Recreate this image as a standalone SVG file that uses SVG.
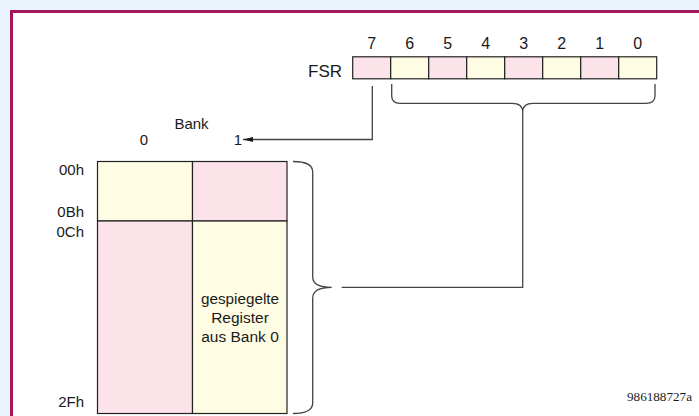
<svg xmlns="http://www.w3.org/2000/svg" width="699" height="416" viewBox="0 0 699 416">
<defs>
<style>
.t{font-family:"Liberation Sans",Arial,sans-serif;fill:#1a1a1a}
.cell{stroke:#222;stroke-width:1.2}
.p{fill:#FCE3EA}
.y{fill:#FEFDE3}
.ln{fill:none;stroke:#444;stroke-width:1.3}
</style>
<marker id="arr" markerWidth="10" markerHeight="6" refX="10" refY="3" orient="auto" markerUnits="userSpaceOnUse">
<path d="M0,0.5 L10,3 L0,5.5 Z" fill="#1a1a1a"/>
</marker>
</defs>
<rect x="0" y="0" width="699" height="416" fill="#EBF4FC"/>
<rect x="11.5" y="11.5" width="700" height="420" fill="#fff" stroke="#A3185D" stroke-width="3"/>

<g id="fsr">
<text class="t" x="342" y="77" font-size="17" text-anchor="end">FSR</text>
<rect class="cell p" x="352.7" y="56.8" width="38" height="22"/>
<rect class="cell y" x="390.7" y="56.8" width="38" height="22"/>
<rect class="cell p" x="428.7" y="56.8" width="38" height="22"/>
<rect class="cell y" x="466.7" y="56.8" width="38" height="22"/>
<rect class="cell p" x="504.7" y="56.8" width="38" height="22"/>
<rect class="cell y" x="542.7" y="56.8" width="38" height="22"/>
<rect class="cell p" x="580.7" y="56.8" width="38" height="22"/>
<rect class="cell y" x="618.7" y="56.8" width="38" height="22"/>
<g class="t" font-size="16" text-anchor="middle">
<text x="371.7" y="48.5">7</text>
<text x="409.7" y="48.5">6</text>
<text x="447.7" y="48.5">5</text>
<text x="485.7" y="48.5">4</text>
<text x="523.7" y="48.5">3</text>
<text x="561.7" y="48.5">2</text>
<text x="599.7" y="48.5">1</text>
<text x="637.7" y="48.5">0</text>
</g>
</g>

<g id="bank-labels" class="t" font-size="15">
<text x="191.5" y="128.5" text-anchor="middle">Bank</text>
<text x="144" y="144.5" text-anchor="middle">0</text>
<text x="238" y="144.5" text-anchor="middle">1</text>
</g>

<g id="memory">
<rect class="cell y" x="97.5" y="161.5" width="95" height="59.5"/>
<rect class="cell p" x="192.5" y="161.5" width="94.5" height="59.5"/>
<rect class="cell p" x="97.5" y="221" width="95" height="192.5"/>
<rect class="cell y" x="192.5" y="221" width="94.5" height="192.5"/>
<g class="t" font-size="15" text-anchor="end">
<text x="84" y="175">00h</text>
<text x="84" y="217">0Bh</text>
<text x="84" y="237">0Ch</text>
<text x="84" y="407">2Fh</text>
</g>
<g class="t" font-size="15.5" text-anchor="middle">
<text x="240" y="304" textLength="78" lengthAdjust="spacingAndGlyphs">gespiegelte</text>
<text x="240" y="323">Register</text>
<text x="240" y="342">aus Bank 0</text>
</g>
</g>

<g id="connectors">
<path class="ln" d="M391.7,84 L391.7,96 Q391.7,103.3 400,103.3 L512,103.3 Q522.7,103.3 522.7,112 Q522.7,103.3 533,103.3 L646,103.3 Q655,103.3 655,96 L655,84"/>
<path class="ln" d="M522.7,112 L522.7,287.3 L341.7,287.3"/>
<path class="ln" d="M293,161.5 Q312.7,161.5 312.7,172 L312.7,277 Q312.7,287.3 331.7,287.3 Q312.7,287.3 312.7,298 L312.7,403 Q312.7,413.5 293,413.5"/>
<path class="ln" d="M372.3,86 L372.3,139.5 L243,139.5" marker-end="url(#arr)"/>
</g>

<text x="692" y="401" font-family="'Liberation Serif','Times New Roman',serif" font-size="11.5" text-anchor="end" textLength="65" lengthAdjust="spacingAndGlyphs" fill="#1a1a1a">986188727a</text>
</svg>
